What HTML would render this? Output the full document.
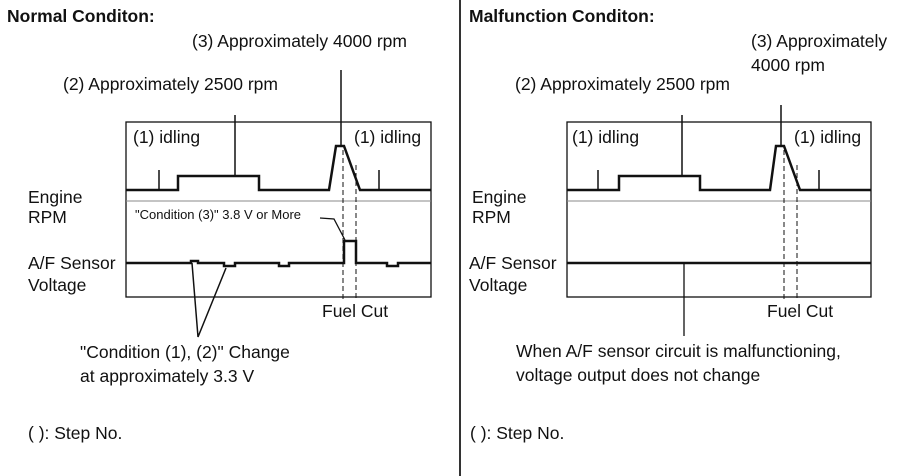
<!DOCTYPE html>
<html><head><style>body{margin:0;background:#fff}svg{display:block}text{font-family:"Liberation Sans",sans-serif;fill:#111}</style></head><body>
<svg width="910" height="476" viewBox="0 0 910 476" xmlns="http://www.w3.org/2000/svg">
<line x1="460" y1="0" x2="460" y2="476" stroke="#333" stroke-width="2"/>
<g font-size="17.5">
<text x="7" y="22" font-weight="bold" font-size="17.5">Normal Conditon:</text>
<text x="192" y="47">(3) Approximately 4000 rpm</text>
<text x="63" y="90">(2) Approximately 2500 rpm</text>
<text x="133" y="143">(1) idling</text>
<text x="354" y="143">(1) idling</text>
<text x="28" y="203">Engine</text>
<text x="28" y="223">RPM</text>
<text x="135" y="219" font-size="13">"Condition (3)" 3.8 V or More</text>
<text x="28" y="269">A/F Sensor</text>
<text x="28" y="291">Voltage</text>
<text x="322" y="317">Fuel Cut</text>
<text x="80" y="358">"Condition (1), (2)" Change</text>
<text x="80" y="382">at approximately 3.3 V</text>
<text x="28" y="439">( ): Step No.</text>

<text x="469" y="22" font-weight="bold" font-size="17.5">Malfunction Conditon:</text>
<text x="751" y="47">(3) Approximately</text>
<text x="751" y="71">4000 rpm</text>
<text x="515" y="90">(2) Approximately 2500 rpm</text>
<text x="572" y="143">(1) idling</text>
<text x="794" y="143">(1) idling</text>
<text x="472" y="203">Engine</text>
<text x="472" y="223">RPM</text>
<text x="469" y="269">A/F Sensor</text>
<text x="469" y="291">Voltage</text>
<text x="767" y="317">Fuel Cut</text>
<text x="516" y="357">When A/F sensor circuit is malfunctioning,</text>
<text x="516" y="381">voltage output does not change</text>
<text x="470" y="439">( ): Step No.</text>
</g>
<g fill="none" stroke="#111">
<rect x="126" y="122" width="305" height="175" stroke-width="1.3"/>
<line x1="126" y1="201" x2="431" y2="201" stroke="#888" stroke-width="1"/>
<polyline points="126,190 178,190 178,176 259,176 259,190 329,190 336,146 344,146 360,190 431,190" stroke-width="2.5"/>
<line x1="159" y1="170" x2="159" y2="190" stroke-width="1.5"/>
<line x1="379" y1="170" x2="379" y2="190" stroke-width="1.5"/>
<line x1="235" y1="115" x2="235" y2="176" stroke-width="1.5"/>
<line x1="341" y1="70" x2="341" y2="146" stroke-width="1.5"/>
<line x1="343" y1="150" x2="343" y2="300" stroke-dasharray="5,3" stroke-width="1"/>
<line x1="356" y1="165" x2="356" y2="300" stroke-dasharray="5,3" stroke-width="1"/>
<polyline points="126,263 191,263 191,261 198,261 198,263 224,263 224,266 235,266 235,263 279,263 279,266 289,266 289,263 344,263 344,241 356,241 356,263 387,263 387,266 398,266 398,263 431,263" stroke-width="2.5"/>
<polyline points="320,218 334,219 345,240" stroke-width="1.3"/>
<polyline points="192,263 198,337 226,268" stroke-width="1.5"/>
<rect x="567" y="122" width="304" height="175" stroke-width="1.3"/>
<line x1="567" y1="201" x2="871" y2="201" stroke="#888" stroke-width="1"/>
<polyline points="567,190 619,190 619,176 700,176 700,190 770,190 776,146 784,146 800,190 871,190" stroke-width="2.5"/>
<line x1="598" y1="170" x2="598" y2="190" stroke-width="1.5"/>
<line x1="819" y1="170" x2="819" y2="190" stroke-width="1.5"/>
<line x1="682" y1="115" x2="682" y2="176" stroke-width="1.5"/>
<line x1="781" y1="105" x2="781" y2="146" stroke-width="1.5"/>
<line x1="784" y1="150" x2="784" y2="300" stroke-dasharray="5,3" stroke-width="1"/>
<line x1="797" y1="165" x2="797" y2="300" stroke-dasharray="5,3" stroke-width="1"/>
<line x1="567" y1="263" x2="871" y2="263" stroke-width="2.5"/>
<line x1="684" y1="263" x2="684" y2="336" stroke-width="1.3"/>
</g>
</svg>
</body></html>
